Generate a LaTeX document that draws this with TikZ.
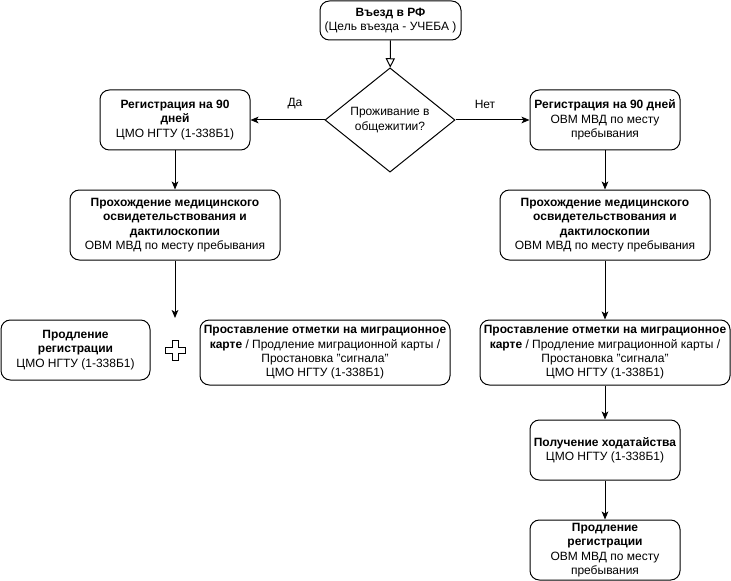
\documentclass[tikz,border=0pt]{standalone}
\usepackage{fontspec}
\setmainfont{Liberation Sans}
\usetikzlibrary{arrows.meta,shapes.geometric}
\begin{document}
\begin{tikzpicture}[x=0.75pt,y=-0.75pt,
  every node/.style={font=\fontsize{9}{10.8}\selectfont},
  box/.style={draw, line width=0.75pt, rounded corners=7pt, align=center, inner sep=0pt},
  sbox/.style={box, minimum width=112.5pt, minimum height=45pt},
  mbox/.style={box, minimum width=157.5pt, minimum height=52.5pt},
  wbox/.style={box, minimum width=187.5pt, minimum height=48.75pt},
  conn/.style={line width=0.75pt, -{Stealth[length=6pt,width=5pt,inset=1.5pt]}},
  openconn/.style={line width=0.75pt, -{Triangle[open,length=7pt,width=7pt]}},
  lbl/.style={inner sep=0pt}
]
\useasboundingbox (0,0) rectangle (731,581);

\node[box, minimum width=105.75pt, minimum height=29.25pt] (start) at (390.5,20.5)
  {\textbf{Въезд в РФ}\\(Цель въезда - УЧЕБА )};
\node[draw, diamond, line width=0.75pt, minimum width=97.5pt, minimum height=75pt, inner sep=0pt, align=center] (dec) at (390,120)
  {Проживание в\\общежитии?};

\node[sbox] (l1) at (175,120) {\textbf{Регистрация на 90}\\\textbf{дней}\\ЦМО НГТУ (1-338Б1)};
\node[sbox] (r1) at (605,120) {\textbf{Регистрация на 90 дней}\\ОВМ МВД по месту\\пребывания};

\node[mbox] (l2) at (175,225) {\textbf{Прохождение медицинского}\\\textbf{освидетельствования и}\\\textbf{дактилоскопии}\\ОВМ МВД по месту пребывания};
\node[mbox] (r2) at (605,225) {\textbf{Прохождение медицинского}\\\textbf{освидетельствования и}\\\textbf{дактилоскопии}\\ОВМ МВД по месту пребывания};

\node[box, minimum width=111.75pt, minimum height=45pt] (l3) at (75.5,350) {\textbf{Продление}\\\textbf{регистрации}\\ЦМО НГТУ (1-338Б1)};
\node[wbox] (m3) at (325,352.5) {\textbf{Проставление отметки на миграционное}\\\textbf{карте} / Продление миграционной карты /\\Простановка "сигнала"\\ЦМО НГТУ (1-338Б1)};
\node[wbox] (r3) at (605,352.5) {\textbf{Проставление отметки на миграционное}\\\textbf{карте} / Продление миграционной карты /\\Простановка "сигнала"\\ЦМО НГТУ (1-338Б1)};

\node[sbox] (r4) at (605,450) {\textbf{Получение ходатайства}\\ЦМО НГТУ (1-338Б1)};
\node[sbox] (r5) at (605,550) {\textbf{Продление}\\\textbf{регистрации}\\ОВМ МВД по месту\\пребывания};

% plus sign
\draw[line width=0.75pt] (172,340) -- (178,340) -- (178,347) -- (185,347) -- (185,353) -- (178,353)
  -- (178,360) -- (172,360) -- (172,353) -- (165,353) -- (165,347) -- (172,347) -- cycle;

\coordinate (lend) at (175,318);

\draw[openconn] (start) -- (dec);
\draw[conn] (dec.west) -- (l1.east);
\draw[conn] (dec.east) -- (r1.west);
\node[lbl] (da) at (295,104) {Да};
\node[lbl] (net) at (485,104) {Нет};
\draw[conn] (l1) -- (l2);
\draw[conn] (r1) -- (r2);
\draw[conn] (l2) -- (lend);
\draw[conn] (r2) -- (r3);
\draw[conn] (r3) -- (r4);
\draw[conn] (r4) -- (r5);
\end{tikzpicture}
\end{document}
